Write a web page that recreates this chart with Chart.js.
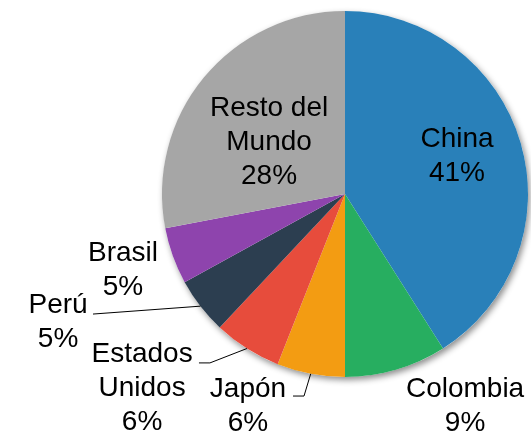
<!DOCTYPE html>
<html>
<head>
<meta charset="utf-8">
<script src="https://cdn.jsdelivr.net/npm/chart.js@4"></script>
<style>
html,body{margin:0;padding:0;background:#fff;}
#wrap{width:531px;height:434px;}
</style>
</head>
<body>
<div id="wrap"><canvas id="c" width="531" height="434"></canvas></div>
<script>
const categories = ['China', 'Colombia', 'Japón', ['Estados', 'Unidos'], 'Perú', 'Brasil', ['Resto del', 'Mundo']];
const values = [41, 9, 6, 6, 5, 5, 28];
const colors = ['#2980B9', '#27AE60', '#F39C12', '#E74C3C', '#2C3E50', '#8E44AD', '#A6A6A6'];

// label block centres, relative to pie centre, in units of the radius
const labelPos = [[0.612,-0.216],[0.656,1.150],[-0.530,1.148],[-1.109,1.049],[-1.568,0.691],[-1.213,0.402],[-0.415,-0.295]];
// leader lines: list of points (relative to centre, units of radius) after the slice edge point
const leaders = [null, null, [[-0.224,1.104],[-0.284,1.104]], [[-0.738,0.923],[-0.798,0.923]], [[-1.377,0.656]], null, null];

const total = values.reduce((a,b)=>a+b,0);

const shadowPlugin = {
  id: 'shadow',
  beforeDatasetsDraw(chart) {
    const arc = chart.getDatasetMeta(0).data[0];
    if (!arc) return;
    const ctx = chart.ctx;
    ctx.save();
    ctx.shadowColor = 'rgba(0,0,0,0.45)';
    ctx.shadowBlur = 6;
    ctx.shadowOffsetX = 2;
    ctx.shadowOffsetY = 3;
    ctx.fillStyle = '#fff';
    ctx.beginPath();
    ctx.arc(arc.x, arc.y, arc.outerRadius, 0, Math.PI*2);
    ctx.fill();
    ctx.restore();
  }
};

const labelPlugin = {
  id: 'pieLabels',
  afterDatasetsDraw(chart) {
    const ctx = chart.ctx;
    const meta = chart.getDatasetMeta(0);
    const fs = 28, lh = 34;
    ctx.save();
    ctx.font = fs + 'px "Liberation Sans", Arial, sans-serif';
    ctx.fillStyle = '#000';
    ctx.textAlign = 'center';
    ctx.textBaseline = 'alphabetic';
    ctx.strokeStyle = '#000';
    ctx.lineWidth = 1;
    meta.data.forEach((arc, i) => {
      const r = arc.outerRadius, cx = arc.x, cy = arc.y;
      if (leaders[i]) {
        const mid = (arc.startAngle + arc.endAngle) / 2;
        ctx.beginPath();
        ctx.moveTo(cx + r*Math.cos(mid), cy + r*Math.sin(mid));
        leaders[i].forEach(p => ctx.lineTo(cx + p[0]*r, cy + p[1]*r));
        ctx.stroke();
      }
      const name = categories[i];
      const lines = (Array.isArray(name) ? name.slice() : [name]);
      lines.push(Math.round(values[i] / total * 100) + '%');
      const bx = cx + labelPos[i][0]*r;
      const by = cy + labelPos[i][1]*r;
      const y0 = by - (lines.length - 1) * lh / 2;
      lines.forEach((t, k) => {
        ctx.fillText(t, bx, y0 + k*lh + fs*0.358);
      });
    });
    ctx.restore();
  }
};

new Chart(document.getElementById('c'), {
  type: 'pie',
  data: {
    labels: categories,
    datasets: [{
      data: values,
      backgroundColor: colors,
      borderWidth: 0
    }]
  },
  options: {
    responsive: false,
    animation: false,
    layout: { padding: { left: 162, right: 3, top: 11, bottom: 57 } },
    plugins: { legend: { display: false }, tooltip: { enabled: false } }
  },
  plugins: [shadowPlugin, labelPlugin]
});
</script>
</body>
</html>
